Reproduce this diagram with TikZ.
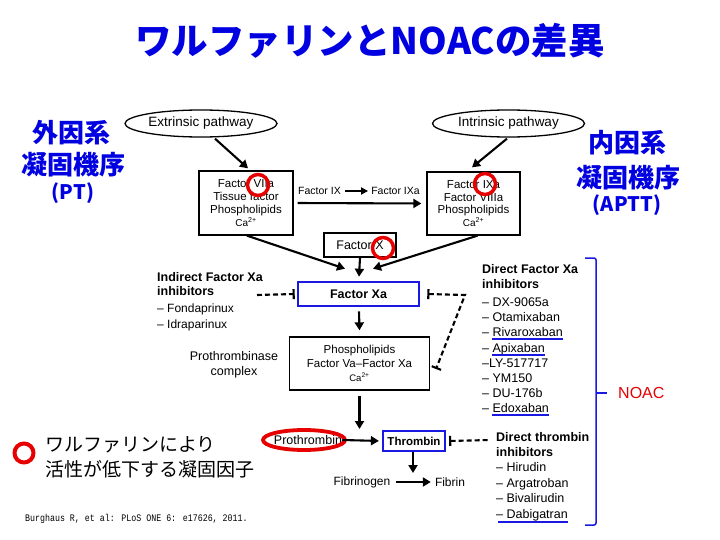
\documentclass[tikz,border=0pt]{standalone}
\usepackage{fontspec}
\setmainfont{Liberation Sans}
\newfontfamily\jpfont{Noto Sans CJK JP}
\newfontfamily\citefont{Liberation Mono}
\usepackage{xcolor}
\usepackage{tikz}
\usetikzlibrary{arrows.meta,positioning,shapes.geometric}
\definecolor{titleblue}{RGB}{0,0,225}
\definecolor{lineblue}{RGB}{25,25,225}
\definecolor{ringred}{RGB}{230,0,0}

\begin{document}
\begin{tikzpicture}[
  x={(1pt,0pt)},
  y={(0pt,-1pt)},
  pathway/.style={draw, ellipse, line width=1.3pt, minimum width=152pt, minimum height=27pt, inner sep=0pt, font=\fontsize{13.5}{16}\selectfont},
  cbox/.style={draw, line width=1.3pt, align=center, inner sep=0pt, font=\fontsize{11.5}{12.8}\selectfont},
  keybox/.style={draw=lineblue, line width=2.6pt, inner sep=0pt, font=\bfseries\fontsize{12.5}{15}\selectfont},
  lab/.style={inner sep=0pt, align=center, font=\fontsize{12.5}{15.5}\selectfont},
  ring/.style={draw=ringred, line width=3.5pt, circle, inner sep=0pt, minimum size=21pt},
  arr/.style={-{Triangle[length=8pt,width=9pt]}, line width=2.1pt},
  inhib/.style={line width=2.1pt, dash pattern=on 5pt off 3pt},
  drug/.style={anchor=base west, inner sep=0pt, font=\fontsize{12.5}{14}\selectfont},
  head/.style={drug, font=\bfseries\fontsize{12.5}{14}\selectfont},
  uline/.style={draw=lineblue, line width=2pt},
  side/.style={text=titleblue, inner sep=0pt, font=\jpfont\bfseries\fontsize{26}{30}\selectfont},
  brk/.style={draw=lineblue, line width=1.5pt}
]
\fill[white] (0,0) rectangle (720,540);
\useasboundingbox (0,0) rectangle (720,540);

% title and side labels
\node[text=titleblue, inner sep=0pt, font=\jpfont\bfseries\fontsize{36.5}{40}\selectfont] (title) at (370,41) {ワルファリンとNOACの差異};
\node[side] (ext1) at (71,133) {外因系};
\node[side] (ext2) at (73,165) {凝固機序};
\node[side, font=\jpfont\bfseries\fontsize{20}{24}\selectfont] (ext3) at (73,193) {(PT)};
\node[side] (int1) at (627,143) {内因系};
\node[side] (int2) at (628,178) {凝固機序};
\node[side, font=\jpfont\bfseries\fontsize{20}{24}\selectfont] (int3) at (627,205) {(APTT)};

% cascade
\node[pathway] (ext) at (201,123.5) {Extrinsic pathway};
\node[pathway] (int) at (508.5,123.5) {Intrinsic pathway};
\node[cbox, minimum width=94pt, minimum height=64pt] (box1) at (246,203) {Factor VIIa\\Tissue factor\\Phospholipids\\{\fontsize{10}{11}\selectfont Ca\textsuperscript{2+}}};
\node[cbox, minimum width=93pt, minimum height=63pt] (box2) at (473.5,203.5) {Factor IXa\\Factor VIIIa\\Phospholipids\\{\fontsize{10}{11}\selectfont Ca\textsuperscript{2+}}};
\node[lab, font=\fontsize{10.5}{12}\selectfont] (f9) at (319.5,191) {Factor IX};
\node[lab, font=\fontsize{10.5}{12}\selectfont] (f9a) at (395.5,191) {Factor IXa};
\node[cbox, minimum width=72pt, minimum height=24pt, font=\fontsize{12.5}{14}\selectfont] (fx) at (360,245) {Factor X};
\node[keybox, minimum width=121pt, minimum height=24pt] (xa) at (358.5,294) {Factor Xa};
\node[cbox, minimum width=140pt, minimum height=53pt, font=\fontsize{11.5}{14}\selectfont] (pbox) at (359.5,363.5) {Phospholipids\\Factor Va--Factor Xa\\{\fontsize{9.5}{11}\selectfont Ca\textsuperscript{2+}}};
\node[lab] (pcx) at (234,365) {Prothrombinase\\complex};
\node[lab] (pro) at (308,440) {Prothrombin};
\node[keybox, line width=2.2pt, minimum width=62pt, minimum height=20pt, font=\bfseries\fontsize{11.5}{13}\selectfont] (thr) at (414,441) {Thrombin};
\node[lab, font=\fontsize{12}{14}\selectfont] (fgen) at (362,482) {Fibrinogen};
\node[lab, font=\fontsize{12}{14}\selectfont] (fib) at (450,482) {Fibrin};

% warfarin rings
\node[ring] (r7) at (258,185) {};
\node[ring] (r9) at (485,184) {};
\node[ring] (r10) at (383,248) {};
\draw[draw=ringred, line width=3.8pt] ([xshift=-4pt]pro.center) ellipse [x radius=41pt, y radius=10pt];

% arrows
\draw[arr] ([xshift=14pt,yshift=-1pt]ext.south) -- ([xshift=2pt,yshift=2pt]box1.north);
\draw[arr] ([xshift=-1.5pt,yshift=-1pt]int.south) -- ([xshift=-1.5pt,yshift=4pt]box2.north);
\draw[arr, shorten <=4pt, shorten >=5pt] (box1.east) -- (box2.west);
\draw[-{Triangle[length=7pt,width=7pt]}, line width=1.8pt, shorten <=4pt, shorten >=3pt] (f9.east) -- (f9a.west);
\draw[arr] ([xshift=1pt]box1.south) -- ([xshift=-13.5pt,yshift=12pt]xa.north);
\draw[arr] ([xshift=4pt]box2.south) -- ([xshift=14.5pt,yshift=12pt]xa.north);
\draw[arr] (fx.south) -- ([xshift=0.5pt,yshift=4pt]xa.north);
\draw[arr] ([xshift=0.5pt,yshift=-4pt]xa.south) -- ([yshift=6pt]pbox.north);
\coordinate (meet) at (359.5,429);
\draw[arr] ([yshift=-5pt]pbox.south) -- (meet);
\draw[arr, shorten >=3pt] (pro.east) -- (thr.west);
\coordinate (cut) at (413,473);
\draw[arr] ([xshift=-1pt]thr.south) -- (cut);
\draw[arr, shorten <=5pt, shorten >=4pt] (fgen.east) -- (fib.west);

% indirect Xa inhibitors
\node[head] (ih1) at (157,281.5) {Indirect Factor Xa};
\node[head] (ih2) at (157,295.5) {inhibitors};
\node[drug, font=\fontsize{12}{14}\selectfont] (in1) at (157,312.5) {– Fondaprinux};
\node[drug, font=\fontsize{12}{14}\selectfont] (in2) at (157,328.5) {– Idraparinux};
\coordinate (ind) at (257,295);
\draw[inhib, -{Bar[width=10pt]}] (ind) -- ([xshift=-2pt]xa.west);

% direct Xa inhibitors
\node[head] (dh1) at (482,273.5) {Direct Factor Xa};
\node[head] (dh2) at (482,288) {inhibitors};
\foreach \drugname [count=\k] in {– DX-9065a, – Otamixaban, – Rivaroxaban, – Apixaban, –LY-517717, – YM150, – DU-176b, – Edoxaban}
  \node[drug] (dx\k) at (482,{306.5+15.2*(\k-1)}) {\drugname};
\foreach \k in {3,4,8}
  \draw[uline] ([xshift=10pt,yshift=-2.5pt]dx\k.base west) -- ([yshift=-2.5pt]dx\k.base east);
\coordinate (dxcorner) at (465,295);
\coordinate (dxend) at (436,369);
\draw[inhib, {Bar[width=10pt]}-{Bar[width=10pt]}] ([xshift=7pt]xa.east) -- (dxcorner) -- (dxend);

% direct thrombin inhibitors
\node[head] (th1) at (496,441.5) {Direct thrombin};
\node[head] (th2) at (496,456.5) {inhibitors};
\foreach \drugname [count=\k] in {– Hirudin, – Argatroban, – Bivalirudin, – Dabigatran}
  \node[drug] (dt\k) at (496,{471.5+15.6*(\k-1)}) {\drugname};
\draw[uline] ([xshift=2pt,yshift=-3.5pt]dt4.base west) -- ([yshift=-3.5pt]dt4.base east);
\coordinate (dth) at (490,440);
\draw[inhib, {Bar[width=10pt]}-] ([xshift=3pt]thr.east) -- (dth);

% NOAC bracket
\draw[brk, rounded corners=2pt] (585,258) -- (596,258) -- (596,525) -- (585,525);
\coordinate (tip) at (607,393);
\draw[brk] (596,393) -- (tip);
\node[inner sep=0pt, right=11pt of tip, text=ringred, font=\fontsize{16}{18}\selectfont] (noac) {NOAC};

% legend and source
\node[ring, line width=4pt, minimum size=19pt] (key) at (24,453) {};
\node[anchor=west, inner sep=0pt, align=left, font=\jpfont\fontsize{19}{25}\selectfont] (keytext) at (45,457.5) {ワルファリンにより\\活性が低下する凝固因子};
\node[anchor=west, inner sep=0pt, xscale=0.83, transform shape, font=\citefont\fontsize{10}{12}\selectfont] (cite) at (25,519) {Burghaus R, et al: PLoS ONE 6: e17626, 2011.};
\end{tikzpicture}
\end{document}
